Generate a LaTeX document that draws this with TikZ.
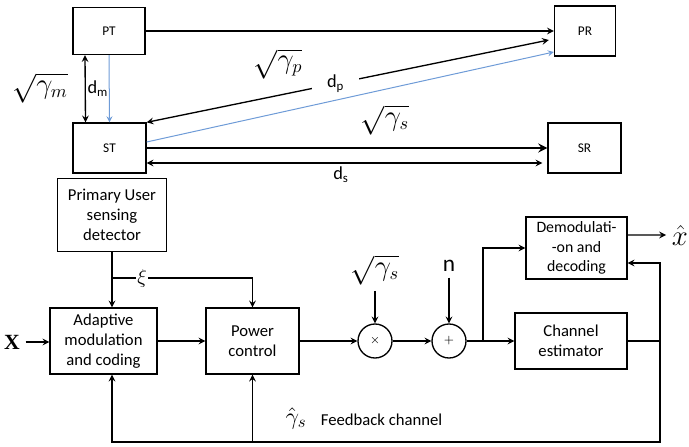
\documentclass[tikz,border=0pt]{standalone}
\usepackage{amsmath}
\usepackage{amssymb}
\usepackage{fontspec}
\setmainfont{Carlito}
\newfontfamily\serifx{Liberation Serif}
\usetikzlibrary{arrows,positioning}
\definecolor{linkblue}{RGB}{110,155,215}
\tikzstyle{block} = [rectangle, draw=black, thick, text centered, align=center, inner sep=1pt]
\tikzstyle{mixer} = [circle, draw=black, thick, minimum size=20.4pt, inner sep=0pt]
\tikzstyle{arrow} = [thick,->,>=stealth]
\tikzstyle{darrow} = [thick,<->,>=stealth]
\tikzstyle{bluearrow} = [linkblue, line width=0.6pt,->,>=stealth]
\tikzstyle{gainlabel} = [font=\fontsize{16}{16}\selectfont]

\begin{document}
\begin{tikzpicture}[x=0.6pt,y=-0.6pt,font=\fontsize{10}{12}\selectfont]
\useasboundingbox (0,0) rectangle (689,447);

% terminals and links
\node (PT) [block, minimum width=43.2pt, minimum height=28.2pt, font=\fontsize{8}{9}\selectfont] at (109,31) {PT};
\node (PR) [block, minimum width=36.6pt, minimum height=30pt, font=\fontsize{8}{9}\selectfont] at (585,31) {PR};
\node (ST) [block, minimum width=43.8pt, minimum height=30pt, font=\fontsize{8}{9}\selectfont] at (109.5,148) {ST};
\node (SR) [block, minimum width=43.8pt, minimum height=30pt, font=\fontsize{8}{9}\selectfont] at (584.5,148) {SR};

\draw [arrow] (PT) -- (PR);
\draw [darrow] ([xshift=-14.4pt]PT.south) -- node [right, inner sep=1pt, font=\fontsize{11}{12}\selectfont] {d\textsubscript{m}} ([xshift=-14.4pt]ST.north);
\node (gm) [gainlabel] at (40,88) {$\sqrt{\gamma_m}$};
\draw [bluearrow] (PT.south) -- (ST.north);
\draw [darrow] (ST.north east) -- node [pos=0.47, fill=white, inner xsep=9pt, inner ysep=1pt, font=\fontsize{11}{12}\selectfont] (dp) {d\textsubscript{p}} ([xshift=-3pt,yshift=-5.4pt]PR.west);
\node (gp) [gainlabel] at (278,64) {$\sqrt{\gamma_p}$};
\draw [bluearrow] ([yshift=3.6pt]ST.east) -- ([yshift=-12.6pt]PR.west);
\draw [arrow, line width=1.4pt] (ST) -- (SR);
\node (gs) [gainlabel] at (385,120) {$\sqrt{\gamma_s}$};
\draw [darrow] ([yshift=-9pt]ST.east) -- ([xshift=-3pt,yshift=-9pt]SR.west);
\node (ds) [font=\fontsize{11}{12}\selectfont] at (341,175) {d\textsubscript{s}};

% transmitter and receiver chain
\node (PU) [block, minimum width=65.4pt, minimum height=43.8pt] at (112,215) {Primary User\\sensing\\detector};
\node (AMC) [block, minimum width=64.2pt, minimum height=39.6pt] at (103.5,341) {Adaptive\\modulation\\and coding};
\node (PC) [block, minimum width=55.8pt, minimum height=39.6pt] at (252.5,341) {Power\\control};
\node (mult) [mixer] at (375,341) {\scriptsize$\times$};
\node (plus) [mixer] at (449,341) {\scriptsize$+$};
\node (Demod) [block, minimum width=60.6pt, minimum height=37.2pt, font=\fontsize{9.5}{11.5}\selectfont] at (576.5,248) {Demodulati-\\-on and\\decoding};
\node (CE) [block, minimum width=67.2pt, minimum height=33.6pt] at (571,341) {Channel\\estimator};

\node (xin) [font=\fontsize{13}{13}\selectfont\serifx\bfseries] at (12,342) {X};
\draw [arrow] (xin.east) -- (xin.east -| AMC.west);
\draw [arrow] (PU.south) -- (PU.south |- AMC.north);
\coordinate (xi) at (112,278);
\draw [arrow] (xi) -| node [pos=0.107, fill=white, inner sep=1pt] {\large$\xi$} (PC.north);
\draw [arrow] (AMC) -- (PC);
\draw [arrow] (PC) -- (mult);
\draw [arrow] (mult) -- (plus);

\node (gain) [gainlabel] at (375,270) {$\sqrt{\gamma_s}$};
\draw [arrow] (gain) -- (mult);
\node (noise) [font=\fontsize{14}{14}\selectfont] at (449,266) {n};
\draw [arrow] (noise) -- (plus);

\coordinate (j) at (483,341);
\draw [thick] (plus) -- (j);
\draw [arrow] (j) -- (CE);
\draw [arrow] (j) |- (Demod.west);

\coordinate (xout) at (666,235);
\draw [arrow] ([yshift=7.8pt]Demod.east) -- (xout);
\node (xhat) [right=0pt of xout, font=\fontsize{16}{16}\selectfont] {$\hat{x}$};

% feedback channel
\coordinate (fbr) at (660,341);
\coordinate (fbb) at (660,442);
\draw [arrow] (fbr) |- ([yshift=-9pt]Demod.east);
\draw [arrow] (CE.east) -- (fbr) -- (fbb) -| (PU.south |- AMC.south);
\draw [arrow] (PC.south |- fbb) -- (PC.south);
\node (gshat) at (296,418) {\Large$\hat{\gamma}_s$};
\node (fblabel) [right] at (315,420) {Feedback channel};

\end{tikzpicture}
\end{document}
